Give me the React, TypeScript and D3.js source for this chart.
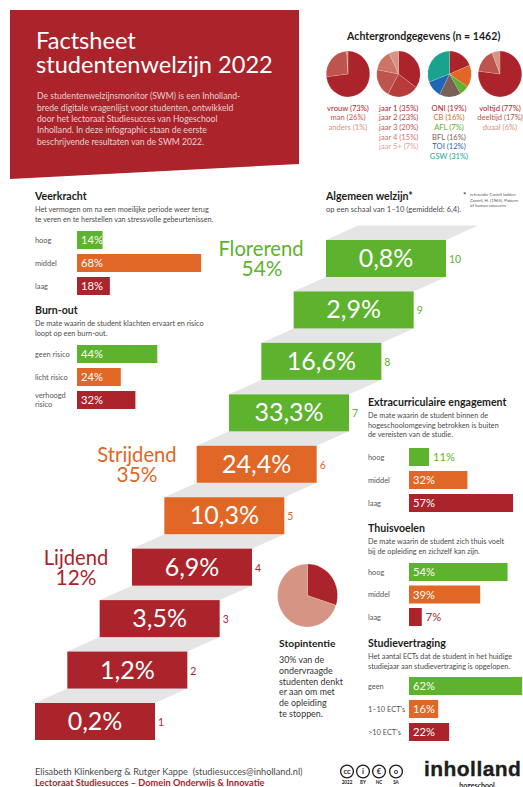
import React from 'react';
import * as d3 from 'd3';

const RED = '#ab232b';
const ORANGE = '#e06726';
const GREEN = '#5db22e';
const FONT = 'Lato, sans-serif';

// ladder
const ladderSteps = [1, 2, 3, 4, 5, 6, 7, 8, 9, 10];
const ladderValues = [0.2, 1.2, 3.5, 6.9, 10.3, 24.4, 33.3, 16.6, 2.9, 0.8];

// background pies
const genderLabels = ['vrouw', 'man', 'anders'];
const genderValues = [73, 26, 1];
const yearLabels = ['jaar 1', 'jaar 2', 'jaar 3', 'jaar 4', 'jaar 5+'];
const yearValues = [35, 23, 20, 15, 7];
const facultyLabels = ['ONI', 'CB', 'AFL', 'BFL', 'TOI', 'GSW'];
const facultyValues = [19, 16, 7, 16, 12, 31];
const modeLabels = ['voltijd', 'deeltijd', 'duaal'];
const modeValues = [77, 17, 6];
const stopValues = [30, 70];

// bar blocks
const threeLevels = ['hoog', 'middel', 'laag'];
const veerkrachtValues = [14, 68, 18];
const burnoutLabels = ['geen risico', 'licht risico', 'verhoogd risico'];
const burnoutValues = [44, 24, 32];
const extraValues = [11, 32, 57];
const thuisValues = [54, 39, 7];
const vertragingLabels = ['geen', '1–10 ECT\'s', '>10 ECT\'s'];
const vertragingValues = [62, 16, 22];

const barColors = [GREEN, ORANGE, RED];
const genderColors = [RED, '#be554c', '#d69584'];
const yearColors = [RED, '#b83c3c', '#be554c', '#cc7567', '#d69584'];
const yearTextColors = [RED, '#b83c3c', '#be554c', '#cc7567', '#dba597'];
const facultyColors = [RED, ORANGE, GREEN, '#7a6056', '#1f66b5', '#1aa38c'];

const pieGen = d3.pie<number>().sort(null).value(d => d);

function Pie({ cx, cy, r, values, colors }: { cx: number; cy: number; r: number; values: number[]; colors: string[] }) {
  const arc = d3.arc<d3.PieArcDatum<number>>().innerRadius(0).outerRadius(r);
  return (
    <g transform={`translate(${cx},${cy}) scale(1,1.05)`}>
      {pieGen(values).map((d, i) => (
        <path key={i} d={arc(d) as string} fill={colors[i]} stroke="#fff" strokeOpacity={0.35} strokeWidth={0.4} />
      ))}
    </g>
  );
}

function PieLegend({ x, labels, values, colors }: { x: number; labels: string[]; values: number[]; colors: string[] }) {
  return (
    <g textAnchor="middle" fontSize={7.6}>
      {labels.map((l, i) => (
        <text key={l} x={x} y={110.7 + i * 9.65} fill={colors[i]}>{`${l} (${values[i]}%)`}</text>
      ))}
    </g>
  );
}

const barWidth = d3.scaleLinear().domain([0, 100]).range([0, 182.5]);

function BarBlock({ title, desc, labels, values, x, barX, titleY, barY, pitch }: {
  title: string; desc: string[]; labels: string[]; values: number[];
  x: number; barX: number; titleY: number; barY: number; pitch: number;
}) {
  const y = d3.scaleLinear().domain([0, 1]).range([barY, barY + pitch]);
  return (
    <g>
      <text x={x} y={titleY} fontSize={10.6} fontWeight={700} fill="#1d1d1b">{title}</text>
      {desc.map((line, i) => (
        <text key={i} x={x} y={titleY + 12.2 + i * 9.6} fontSize={7.3} fill="#4a4a4a">{line}</text>
      ))}
      {labels.map((l, i) => {
        const w = barWidth(values[i]);
        const inside = w > 22;
        const words = l === 'verhoogd risico' ? l.split(' ') : [l];
        return (
          <g key={l}>
            <rect x={barX} y={y(i)} width={w} height={18} fill={barColors[i]} />
            {words.map((word, j) => (
              <text key={word} x={x} y={y(i) + 11.5 + (j - (words.length - 1) / 2) * 9.6} fontSize={7.4} fill="#555">{word}</text>
            ))}
            <text x={inside ? barX + 4 : barX + w + 4} y={y(i) + 13.3} fontSize={11.2} fill={inside ? '#fff' : barColors[i]}>{values[i]}%</text>
          </g>
        );
      })}
    </g>
  );
}

function Ladder() {
  const stepW = 120;
  const stepH = 37;
  const x = d3.scaleLinear().domain([1, 10]).range([35, 326]);
  const y = d3.scaleLinear().domain([1, 10]).range([703, 240]);
  const dx = x(2) - x(1);
  const dy = y(1) - y(2) - stepH;
  const color = d3.scaleThreshold<number, string>().domain([5, 7]).range([RED, ORANGE, GREEN]);
  return (
    <g>
      {ladderSteps.map((s, i) => (
        <g key={s}>
          <polygon
            points={`${x(s)},${y(s)} ${x(s) + dx},${y(s) - dy} ${x(s) + dx + stepW},${y(s) - dy} ${x(s) + stepW},${y(s)}`}
            fill="#e5e5e5"
          />
          <rect x={x(s)} y={y(s)} width={stepW} height={stepH} fill={color(s)} />
          <text x={x(s) + stepW / 2} y={y(s) + 27} textAnchor="middle" fontSize={25} fill="#fff">
            {String(ladderValues[i]).replace('.', ',')}%
          </text>
          <text x={x(s) + stepW + 3} y={y(s) + 23} fontSize={10.5} fill={color(s)}>{s}</text>
        </g>
      ))}
    </g>
  );
}

function Badge({ cx, glyph, label }: { cx: number; glyph: string; label: string }) {
  return (
    <g textAnchor="middle">
      <circle cx={cx} cy={771.5} r={6.4} fill="#fff" stroke="#1d1d1b" strokeWidth={1.3} />
      <text x={cx} y={774} fontSize={7.5} fontWeight={700} fill="#1d1d1b">{glyph}</text>
      <text x={cx} y={783.5} fontSize={4.6} fontWeight={700} fill="#1d1d1b">{label}</text>
    </g>
  );
}

export default function App() {
  return (
    <svg
      width={523}
      height={787}
      viewBox="0 0 523 787"
      style={{ position: 'absolute', left: 0, top: 0, background: '#fff' }}
      fontFamily={FONT}
    >
      {/* header */}
      <polygon points="10,10 299,10 299,164 10,179" fill={RED} />
      <g fill="#fff" fontSize={23.6}>
        <text x={36} y={49}>Factsheet</text>
        <text x={36} y={73}>studentenwelzijn 2022</text>
      </g>
      <g fill="#eccfd0" fontSize={8.6}>
        <text x={37} y={99}>De studentenwelzijnsmonitor (SWM) is een Inholland-</text>
        <text x={37} y={110.5}>brede digitale vragenlijst voor studenten, ontwikkeld</text>
        <text x={37} y={122}>door het lectoraat Studiesucces van Hogeschool</text>
        <text x={37} y={133.3}>Inholland. In deze infographic staan de eerste</text>
        <text x={37} y={144.6}>beschrijvende resultaten van de SWM 2022.</text>
      </g>

      {/* background pies */}
      <text x={423.7} y={40} textAnchor="middle" fontSize={10.6} fontWeight={700} fill="#1d1d1b">Achtergrondgegevens (n = 1462)</text>
      <Pie cx={348} cy={74} r={21.8} values={genderValues} colors={genderColors} />
      <Pie cx={398.5} cy={74} r={21.8} values={yearValues} colors={yearColors} />
      <Pie cx={449.5} cy={74} r={21.8} values={facultyValues} colors={facultyColors} />
      <Pie cx={500} cy={74} r={21.8} values={modeValues} colors={genderColors} />
      <PieLegend x={348} labels={genderLabels} values={genderValues} colors={genderColors} />
      <PieLegend x={398.7} labels={yearLabels} values={yearValues} colors={yearTextColors} />
      <PieLegend x={449} labels={facultyLabels} values={facultyValues} colors={facultyColors} />
      <PieLegend x={500} labels={modeLabels} values={modeValues} colors={genderColors} />

      <BarBlock title="Veerkracht" desc={['Het vermogen om na een moeilijke periode weer terug', 'te veren en te herstellen van stressvolle gebeurtenissen.']}
        labels={threeLevels} values={veerkrachtValues} x={35} barX={77} titleY={200} barY={231} pitch={23} />
      <BarBlock title="Burn-out" desc={['De mate waarin de student klachten ervaart en risico', 'loopt op een burn-out.']}
        labels={burnoutLabels} values={burnoutValues} x={35} barX={77} titleY={314} barY={345} pitch={23} />

      {/* ladder */}
      <Ladder />
      <text x={326} y={200} fontSize={10.6} fontWeight={700} fill="#1d1d1b">Algemeen welzijn*</text>
      <text x={326} y={212} fontSize={7.6} fill="#4a4a4a">op een schaal van 1–10 (gemiddeld: 6,4).</text>
      <g fontSize={4.3} fill="#555">
        <text x={463} y={198} fontSize={8} fill="#1d1d1b">*</text>
        <text x={470} y={196}>referentie Cantril ladder:</text>
        <text x={470} y={201.5}>Cantril, H. (1965). Pattern</text>
        <text x={470} y={207}>of human concerns</text>
      </g>
      <g textAnchor="middle" fontSize={20.2} fill={GREEN}>
        <text x={261} y={256}>Florerend</text>
        <text x={262} y={276} fontSize={20.8}>54%</text>
      </g>
      <g textAnchor="middle" fontSize={20.2} fill={ORANGE}>
        <text x={137} y={462}>Strijdend</text>
        <text x={137} y={482} fontSize={20.8}>35%</text>
      </g>
      <g textAnchor="middle" fontSize={20.2} fill={RED}>
        <text x={76} y={565}>Lijdend</text>
        <text x={76} y={585} fontSize={20.8}>12%</text>
      </g>

      <BarBlock title="Extracurriculaire engagement" desc={['De mate waarin de student binnen de', 'hogeschoolomgeving betrokken is buiten', 'de vereisten van de studie.']}
        labels={threeLevels} values={extraValues} x={368} barX={409} titleY={405.7} barY={448} pitch={23} />
      <BarBlock title="Thuisvoelen" desc={['De mate waarin de student zich thuis voelt', 'bij de opleiding en zichzelf kan zijn.']}
        labels={threeLevels} values={thuisValues} x={368} barX={409} titleY={531.7} barY={563} pitch={22.5} />
      <BarBlock title="Studievertraging" desc={['Het aantal ECTs dat de student in het huidige', 'studiejaar aan studievertraging is opgelopen.']}
        labels={vertragingLabels} values={vertragingValues} x={368} barX={409} titleY={646.7} barY={677} pitch={23} />

      {/* stop intention */}
      <Pie cx={307.5} cy={595.5} r={30} values={stopValues} colors={[RED, '#d69584']} />
      <text x={279} y={646.7} fontSize={10.3} fontWeight={700} fill="#1d1d1b">Stopintentie</text>
      <g fontSize={8.9} fill="#333">
        {['30% van de', 'ondervraagde', 'studenten denkt', 'er aan om met', 'de opleiding', 'te stoppen.'].map((line, i) => (
          <text key={line} x={279} y={663.3 + i * 10.7}>{line}</text>
        ))}
      </g>

      {/* footer */}
      <text x={35} y={775} fontSize={9.2} fill="#4a4a4a" style={{ whiteSpace: 'pre' }}>Elisabeth Klinkenberg &amp; Rutger Kappe  (studiesucces@inholland.nl)</text>
      <text x={35} y={786} fontSize={9.2} fontWeight={700} fill={RED}>Lectoraat Studiesucces – Domein Onderwijs &amp; Innovatie</text>
      <Badge cx={347} glyph="cc" label="2022" />
      <Badge cx={363} glyph="i" label="BY" />
      <Badge cx={379} glyph="€" label="NC" />
      <Badge cx={396} glyph="o" label="SA" />
      <text x={424} y={776} fontFamily="'Liberation Sans', sans-serif" fontWeight={700} fontSize={21} letterSpacing={0.45} fill="#1d1d1b" stroke="#1d1d1b" strokeWidth={0.35}>inholland</text>
      <text x={477} y={788} textAnchor="middle" fontSize={7} fontWeight={700} fill="#1d1d1b">hogeschool</text>
    </svg>
  );
}
